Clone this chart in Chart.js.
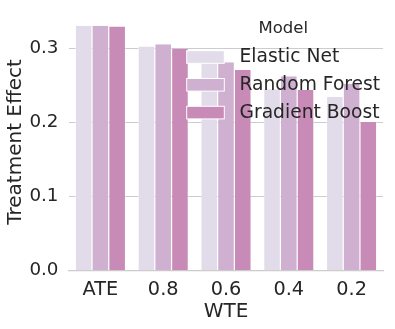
<!DOCTYPE html>
<html>
<head>
<meta charset="utf-8">
<script src="https://cdn.jsdelivr.net/npm/chart.js@4.4.0/dist/chart.umd.min.js"></script>
<style>
html,body{margin:0;padding:0;background:#fff;}
canvas{display:block;}
</style>
</head>
<body>
<canvas id="c" width="395" height="329"></canvas>
<script>
const categories = ['ATE', '0.8', '0.6', '0.4', '0.2'];
const seriesNames = ['Elastic Net', 'Random Forest', 'Gradient Boost'];
const elasticNet = [0.330, 0.302, 0.285, 0.2445, 0.234];
const randomForest = [0.330, 0.305, 0.281, 0.262, 0.252];
const gradientBoost = [0.329, 0.299, 0.2705, 0.2435, 0.2005];
const yTicks = [0, 0.1, 0.2, 0.3];
const yTickLabels = ['0.0', '0.1', '0.2', '0.3'];
const colors = ['rgb(226,220,234)', 'rgb(207,176,208)', 'rgb(200,138,182)'];

const FONT = "'DejaVu Sans', sans-serif";
const TXT = '#262626';
const GRID = '#cccccc';

const legendPlugin = {
  id: 'customLegend',
  afterDraw(chart) {
    const ctx = chart.ctx;
    ctx.save();
    ctx.fillStyle = TXT;
    ctx.font = "16.5px " + FONT;
    ctx.textAlign = 'center';
    ctx.textBaseline = 'middle';
    ctx.fillText('Model', 283.3, 28.8);
    chart.data.datasets.forEach((ds, i) => {
      const cy = 57 + i * 27.8;
      ctx.fillStyle = ds.backgroundColor;
      ctx.fillRect(186.7, cy - 6.3, 37.6, 12.6);
      ctx.strokeStyle = '#ffffff';
      ctx.lineWidth = 1;
      ctx.strokeRect(186.7, cy - 6.3, 37.6, 12.6);
      ctx.fillStyle = TXT;
      ctx.font = "18.7px " + FONT;
      ctx.textAlign = 'left';
      ctx.textBaseline = 'middle';
      ctx.fillText(ds.label, 239.5, cy + 0.5);
    });
    ctx.restore();
  }
};

const series = [elasticNet, randomForest, gradientBoost];
new Chart(document.getElementById('c'), {
  type: 'bar',
  data: {
    labels: categories,
    datasets: series.map((d, i) => ({
      label: seriesNames[i],
      data: d,
      backgroundColor: colors[i],
      borderColor: '#ffffff',
      borderWidth: {left: 0.6, right: 0.6, top: 0, bottom: 0},
      categoryPercentage: 0.8,
      barPercentage: 1.0
    }))
  },
  options: {
    responsive: false,
    animation: false,
    devicePixelRatio: 1,
    layout: {padding: {top: 13.2, right: 12, left: 0, bottom: 0}},
    plugins: {legend: {display: false}, tooltip: {enabled: false}},
    scales: {
      x: {
        grid: {display: false, drawTicks: false},
        border: {display: true, color: GRID, width: 1.25},
        ticks: {color: TXT, font: {family: FONT, size: 19.3}, padding: 8},
        title: {display: true, text: 'WTE', color: TXT, font: {family: FONT, size: 20, lineHeight: 1.2}, padding: {top: 0, bottom: 5.6}},
        afterFit: (s) => { s.height = 58.3; s.paddingLeft = 0; s.paddingRight = 0; }
      },
      y: {
        min: 0,
        max: 0.347,
        grid: {color: GRID, lineWidth: 1, drawTicks: false},
        border: {display: false},
        afterBuildTicks: (s) => { s.ticks = yTicks.map(v => ({value: v})); },
        ticks: {
          color: TXT, font: {family: FONT, size: 18.3}, padding: 10.5,
          callback: (v) => { const k = yTicks.findIndex(t => Math.abs(t - v) < 1e-9); return k >= 0 ? yTickLabels[k] : ''; }
        },
        title: {display: true, text: 'Treatment Effect', color: TXT, font: {family: FONT, size: 20, lineHeight: 1.2}, padding: {top: 3.7, bottom: 0}},
        afterFit: (s) => { s.width = 69; s.paddingTop = 0; s.paddingBottom = 0; }
      }
    }
  },
  plugins: [legendPlugin]
});
</script>
</body>
</html>
